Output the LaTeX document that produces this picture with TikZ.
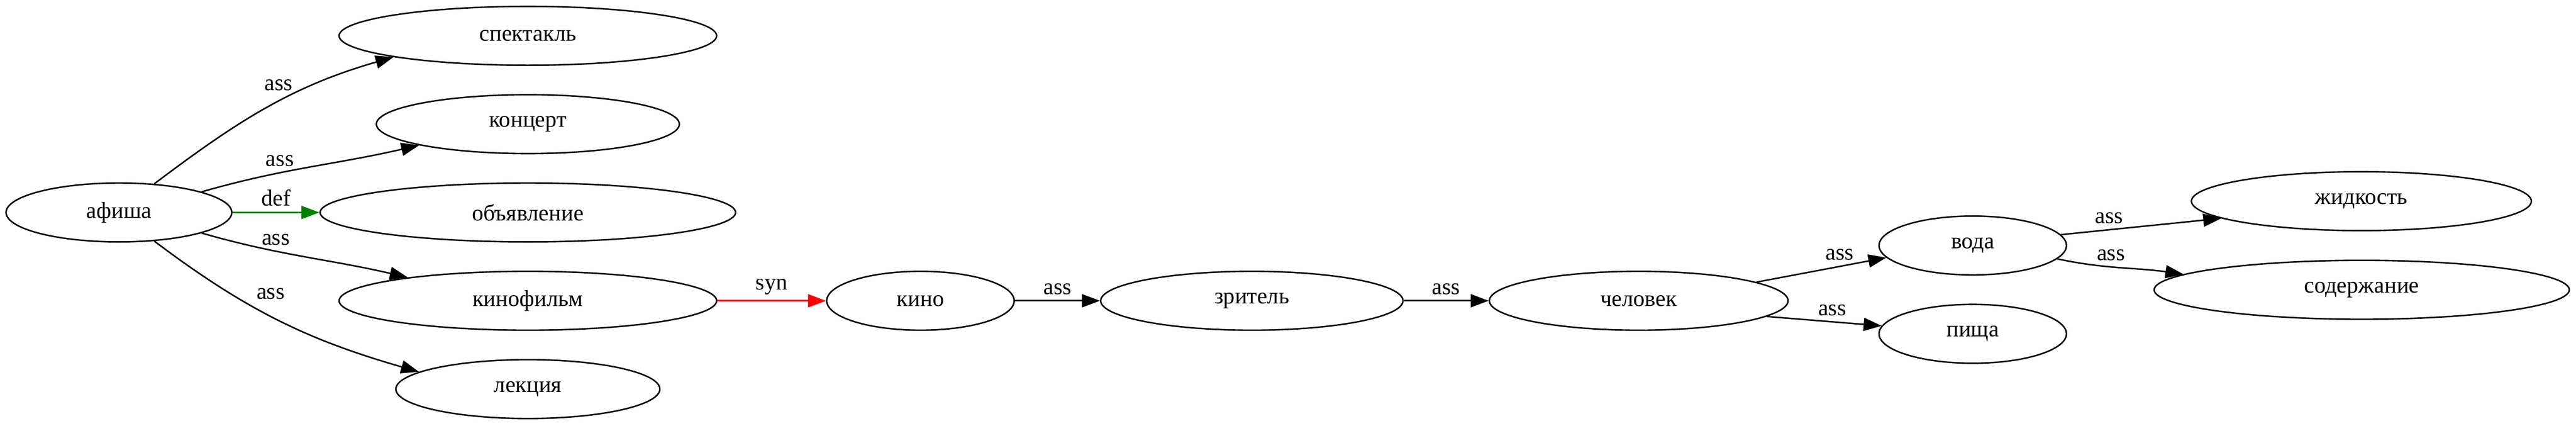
\documentclass[tikz,border=0pt]{standalone}
\usepackage{fontspec}
\setmainfont{Liberation Serif}
\usetikzlibrary{shapes,arrows.meta,positioning}
\definecolor{defgreen}{RGB}{0,128,0}
\tikzstyle{word} = [ellipse, draw, line width=0.9pt, minimum height=36pt, inner sep=0pt]
\tikzstyle{line} = [draw, line width=0.9pt, -{Triangle[length=11pt, width=8pt]}]

\begin{document}
\begin{tikzpicture}[x=1pt, y=1pt, font=\fontsize{14}{16}\selectfont]
		\useasboundingbox (0,0) rectangle (1574.8,260.3);
		% Draw nodes
		\node [word, minimum width=138pt] (afisha) at (72.7,130.4) {афиша};
		\node [word, minimum width=254pt, right of=afisha, node distance=250pt] (obyavlenie) {объявление};
		\node [word, minimum width=185.2pt, above of=obyavlenie, node distance=54pt] (koncert) {концерт};
		\node [word, minimum width=230.8pt, above of=koncert, node distance=54pt] (spektakl) {спектакль};
		\node [word, minimum width=230.8pt, below of=obyavlenie, node distance=54pt] (kinofilm) {кинофильм};
		\node [word, minimum width=161.4pt, below of=kinofilm, node distance=54pt] (lekciya) {лекция};
		\node [word, minimum width=114.6pt, right of=kinofilm, node distance=240pt] (kino) {кино};
		\node [word, minimum width=184.8pt, right of=kino, node distance=202.6pt] (zritel) {зритель};
		\node [word, minimum width=182.6pt, right of=zritel, node distance=236.5pt] (chelovek) {человек};
		\node [word, minimum width=114.6pt] (voda) at (1206,110.2) {вода};
		\node [word, minimum width=114.6pt] (pischa) at (1206,56.2) {пища};
		\node [word, minimum width=207.8pt] (zhidkost) at (1443.6,137.3) {жидкость};
		\node [word, minimum width=253.8pt] (soderzhanie) at (1443.8,83.1) {содержание};
		% Draw lines connecting (arrows)
		\path [line] (afisha.39) to [out=37, in=196] node [pos=0.55, above, yshift=3pt] {ass} (spektakl.189);
		\path [line] (afisha.14) to [out=16, in=193] node [pos=0.35, above] {ass} (koncert.191);
		\path [line, defgreen] (afisha.east) -- node [midway, above, text=black] {def} (obyavlenie.west);
		\path [line] (afisha.-14) to [out=-16, in=167] node [pos=0.35, above] {ass} (kinofilm.169);
		\path [line] (afisha.-39) to [out=-37, in=164] node [pos=0.38, above right] {ass} (lekciya.171);
		\path [line, red] (kinofilm.east) -- node [midway, above, text=black] {syn} (kino.west);
		\path [line] (kino.east) -- node [midway, above] {ass} (zritel.west);
		\path [line] (zritel.east) -- node [midway, above] {ass} (chelovek.west);
		\path [line] (chelovek.9) -- node [pos=0.64, above] {ass} (voda.188);
		\path [line] (chelovek.-7) -- node [pos=0.57, above] {ass} (pischa.175);
		\path [line] (voda.7) -- node [pos=0.3, above] {ass} (zhidkost.187);
		\path [line] (voda.-9) to [out=-12, in=172] node [pos=0.42, above] {ass} (soderzhanie.175);
	\end{tikzpicture}
\end{document}
